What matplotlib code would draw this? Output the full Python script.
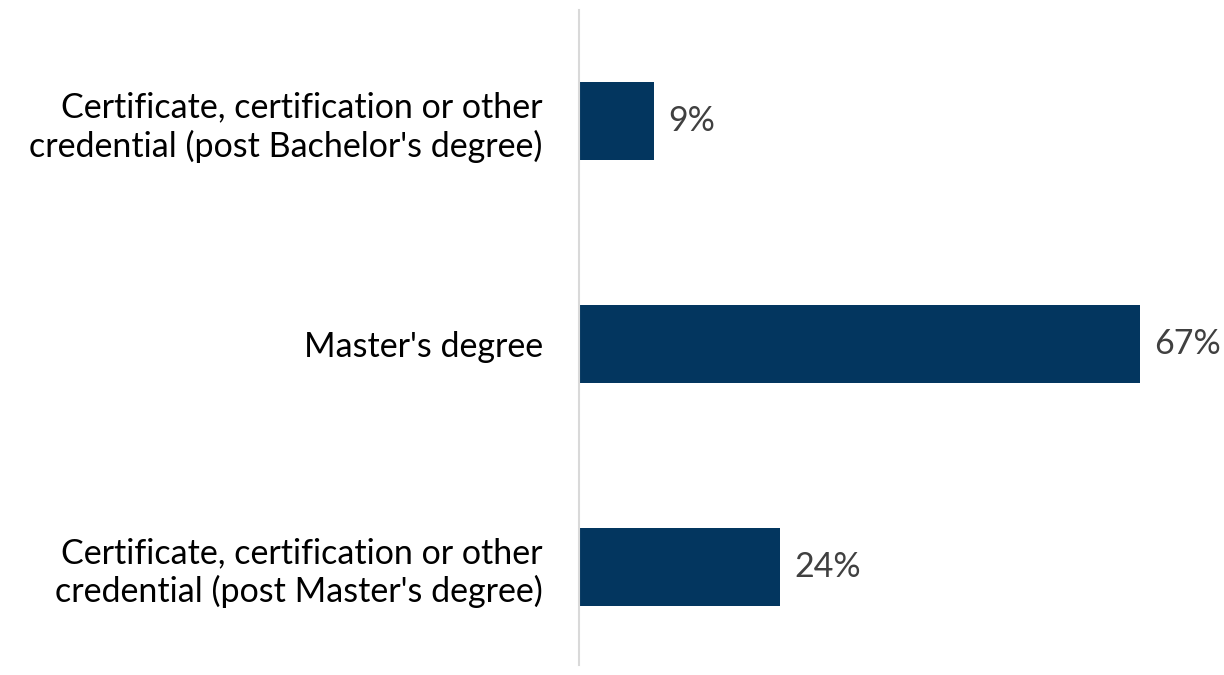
import numpy as np
import matplotlib.pyplot as plt

plt.rcParams['font.family'] = ['Lato', 'DejaVu Sans']

categories = ["Certificate, certification or other\ncredential (post Bachelor's degree)",
              "Master's degree",
              "Certificate, certification or other\ncredential (post Master's degree)"]
values = [9, 67, 24]

fig = plt.figure(figsize=(12.24, 6.75), dpi=100)
ax = fig.add_axes([0.473, 0.0148, 0.527, 0.970])

y = np.arange(len(categories))
ax.barh(y, values, height=0.35, color='#03365F')
ax.set_xlim(0, 77.06)
ax.set_ylim(2.44, -0.498)

for yi, v in zip(y, values):
    ax.text(v + 1.7, yi, f'{v}%', va='center', ha='left', fontsize=24.5, color='#404040')

ax.set_yticks(y)
ax.set_yticklabels(categories, fontsize=24.5, color='#000000', linespacing=1.22)
ax.tick_params(axis='y', length=0, pad=26)
ax.set_xticks([])
for s in ['top', 'right', 'bottom']:
    ax.spines[s].set_visible(False)
ax.spines['left'].set_color('#D9D9D9')
ax.spines['left'].set_linewidth(1.5)

plt.savefig('out.png', dpi=100)
